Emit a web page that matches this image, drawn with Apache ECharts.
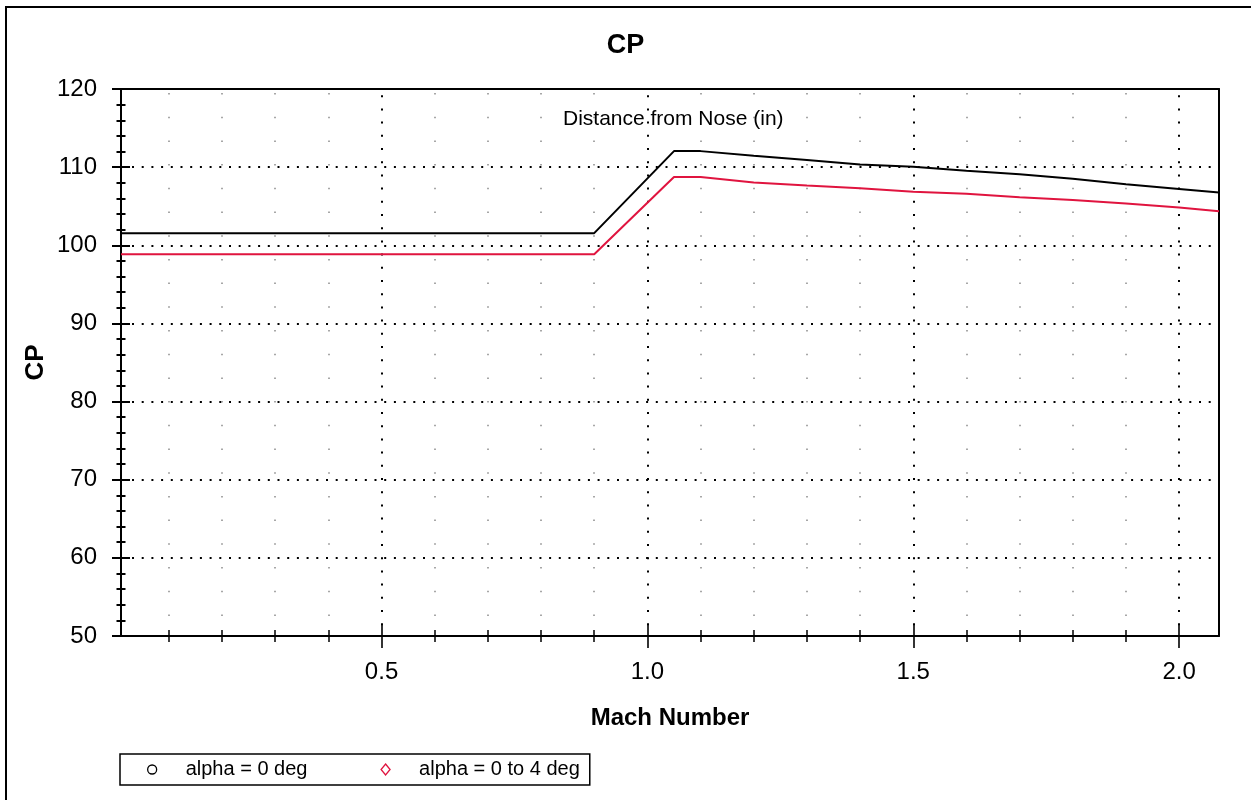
<!DOCTYPE html>
<html>
<head>
<meta charset="utf-8">
<title>CP</title>
<script src="https://cdn.jsdelivr.net/npm/echarts@6/dist/echarts.min.js"></script>
<style>
  html, body { margin: 0; padding: 0; background: #fff; }
  #chart { width: 1251px; height: 800px; }
</style>
</head>
<body>
<div id="chart"></div>
<script>
// Centre of pressure vs. Mach number
const mach = [0.01, 0.9, 1.05, 1.1, 1.2, 1.3, 1.4, 1.5, 1.6, 1.7, 1.8, 1.9, 2.0, 2.075];
const cpAlpha0 = [101.55, 101.55, 112.05, 112.05, 111.45, 110.9, 110.35, 110.05, 109.55, 109.1, 108.5, 107.8, 107.2, 106.75];
const cpAlpha0to4 = [98.85, 98.85, 108.75, 108.75, 108.05, 107.65, 107.3, 106.85, 106.6, 106.15, 105.8, 105.35, 104.85, 104.35];

const seriesNames = ['alpha = 0 deg', 'alpha = 0 to 4 deg'];
const xMajorTicks = [0.5, 1.0, 1.5, 2.0];
const xMinorTicks = [0.1, 0.2, 0.3, 0.4, 0.6, 0.7, 0.8, 0.9, 1.1, 1.2, 1.3, 1.4, 1.6, 1.7, 1.8, 1.9];
const xRange = [0.01, 2.075];
const yRange = [50, 120];

const FONT = "'Liberation Sans', Arial, sans-serif";
const BLACK = '#000';
const RED = '#e0143f';

const pairs = (xs, ys) => xs.map((x, i) => [x, ys[i]]);

const chart = echarts.init(document.getElementById('chart'), null, { renderer: 'canvas' });

const hidden = { show: false };

chart.setOption({
  animation: false,
  backgroundColor: '#fff',
  title: [
    {
      text: 'CP', left: 'center', top: 32, padding: 0,
      textStyle: { fontFamily: FONT, fontSize: 27, fontWeight: 'bold', color: BLACK }
    },
    {
      text: 'Distance from Nose (in)', left: 563, top: 109, padding: 0,
      textStyle: { fontFamily: FONT, fontSize: 21, fontWeight: 'normal', color: BLACK }
    }
  ],
  legend: {
    left: 120, top: 754,
    orient: 'horizontal',
    padding: [5, 10, 5, 27],
    itemWidth: 9, itemHeight: 11, itemGap: 73,
    symbolKeepAspect: true,
    borderColor: BLACK, borderWidth: 1.5, borderRadius: 0,
    formatter: name => '{t|' + name + '}',
    textStyle: {
      fontFamily: FONT, fontSize: 20, color: BLACK, lineHeight: 21,
      rich: { t: { fontFamily: FONT, fontSize: 20, color: BLACK, lineHeight: 21, padding: [0, 0, 0, 24] } }
    },
    data: [
      { name: seriesNames[0], icon: 'circle', itemStyle: { color: '#fff', borderColor: BLACK, borderWidth: 1.3 } },
      { name: seriesNames[1], icon: 'diamond', itemStyle: { color: '#fff', borderColor: RED, borderWidth: 1.3 } }
    ]
  },
  grid: { left: 121, right: 32, top: 89, bottom: 164, containLabel: false, outerBoundsMode: 'none' },
  xAxis: [
    {
      // main axis: line, labels, name, major dotted grid
      type: 'value', min: xRange[0], max: xRange[1], position: 'bottom',
      name: 'Mach Number', nameLocation: 'middle', nameGap: 70, nameMoveOverlap: false,
      nameTextStyle: { fontFamily: FONT, fontSize: 24, fontWeight: 'bold', color: BLACK },
      axisLine: { show: true, lineStyle: { color: BLACK, width: 2 } },
      axisTick: { show: false, customValues: xMajorTicks },
      axisLabel: {
        customValues: xMajorTicks, margin: 24,
        fontFamily: FONT, fontSize: 24, color: BLACK,
        formatter: v => v.toFixed(1)
      },
      splitLine: { show: true, lineStyle: { color: BLACK, width: 2, type: [2, 11.2], dashOffset: 7 } },
      minorTick: hidden, minorSplitLine: hidden
    },
    {
      // major ticks crossing the axis line
      type: 'value', min: xRange[0], max: xRange[1], position: 'bottom', offset: -12,
      axisLine: hidden,
      axisTick: { show: true, customValues: xMajorTicks, length: 24, lineStyle: { color: BLACK, width: 1.6 } },
      axisLabel: hidden, splitLine: hidden
    },
    {
      // minor ticks crossing the axis line, with sparse dotted grid
      type: 'value', min: xRange[0], max: xRange[1], position: 'bottom', offset: -6,
      axisLine: hidden,
      axisTick: { show: true, customValues: xMinorTicks, length: 12, lineStyle: { color: BLACK, width: 1.5 } },
      axisLabel: hidden,
      splitLine: { show: true, lineStyle: { color: '#8a8a8a', width: 1.5, type: [1.5, 22.2], dashOffset: 19.7 } }
    },
    {
      // top frame
      type: 'value', min: xRange[0], max: xRange[1], position: 'top',
      axisLine: { show: true, lineStyle: { color: BLACK, width: 2 } },
      axisTick: hidden, axisLabel: hidden, splitLine: hidden
    }
  ],
  yAxis: [
    {
      type: 'value', min: yRange[0], max: yRange[1], interval: 10, position: 'left',
      name: 'CP', nameLocation: 'middle', nameGap: 72, nameMoveOverlap: false,
      nameTextStyle: { fontFamily: FONT, fontSize: 26, fontWeight: 'bold', color: BLACK },
      axisLine: { show: true, lineStyle: { color: BLACK, width: 2 } },
      axisTick: hidden,
      axisLabel: { margin: 24, fontFamily: FONT, fontSize: 24, color: BLACK },
      splitLine: { show: true, lineStyle: { color: BLACK, width: 2, type: [2, 7.7], dashOffset: 8.4 } }
    },
    {
      // major ticks crossing the axis line
      type: 'value', min: yRange[0], max: yRange[1], interval: 10, position: 'left', offset: -9,
      axisLine: hidden,
      axisTick: { show: true, length: 18, lineStyle: { color: BLACK, width: 2 } },
      axisLabel: hidden, splitLine: hidden
    },
    {
      // minor ticks crossing the axis line
      type: 'value', min: yRange[0], max: yRange[1], interval: 2, position: 'left', offset: -4.5,
      axisLine: hidden,
      axisTick: { show: true, length: 9, lineStyle: { color: BLACK, width: 2 } },
      axisLabel: hidden, splitLine: hidden
    },
    {
      // right frame
      type: 'value', min: yRange[0], max: yRange[1], position: 'right',
      axisLine: { show: true, lineStyle: { color: BLACK, width: 2 } },
      axisTick: hidden, axisLabel: hidden, splitLine: hidden
    }
  ],
  graphic: [
    {
      type: 'rect', silent: true, z: 100,
      shape: { x: 6, y: 7, width: 1400, height: 900 },
      style: { fill: 'none', stroke: BLACK, lineWidth: 2 }
    }
  ],
  series: [
    {
      name: seriesNames[0], type: 'line', xAxisIndex: 0, yAxisIndex: 0,
      data: pairs(mach, cpAlpha0), showSymbol: false, symbol: 'none',
      lineStyle: { color: BLACK, width: 2 }, itemStyle: { color: BLACK }, z: 5
    },
    {
      name: seriesNames[1], type: 'line', xAxisIndex: 0, yAxisIndex: 0,
      data: pairs(mach, cpAlpha0to4), showSymbol: false, symbol: 'none',
      lineStyle: { color: RED, width: 2 }, itemStyle: { color: RED }, z: 5
    }
  ]
});
</script>
</body>
</html>
